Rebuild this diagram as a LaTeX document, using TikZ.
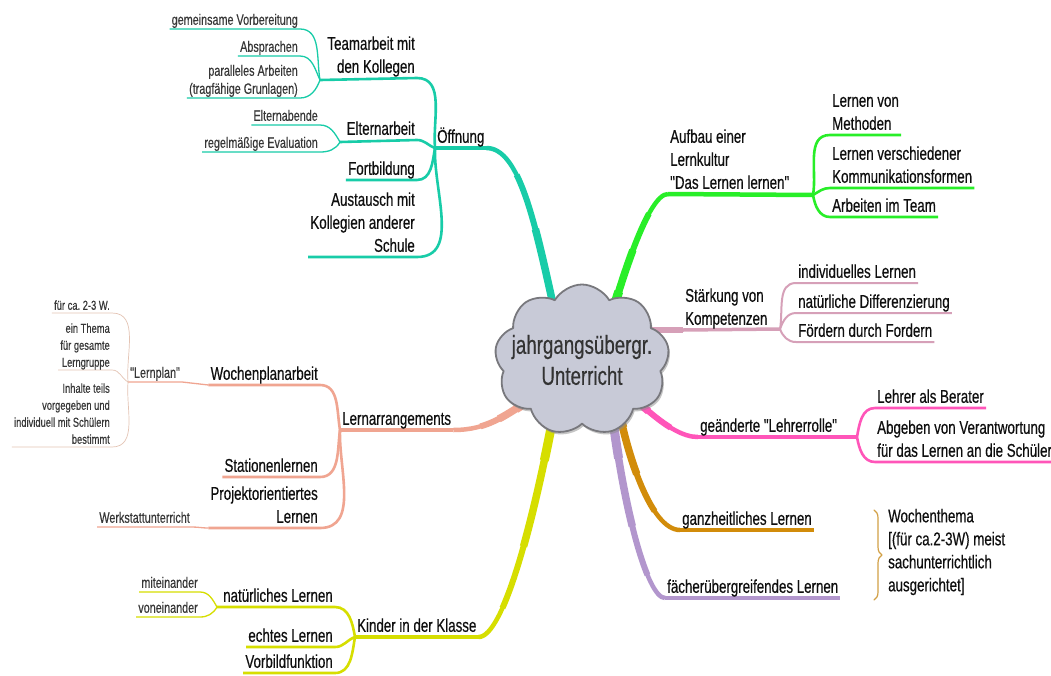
\documentclass[tikz,border=0pt]{standalone}
\usepackage{fontspec}
\setmainfont{Liberation Sans}[FakeStretch=0.72, FakeBold=0.4, Ligatures=TeXOff]
\usetikzlibrary{shapes.symbols,calc,decorations.pathreplacing,shadows}
\definecolor{cteal}{RGB}{24,204,168}
\definecolor{cgreen}{RGB}{40,238,40}
\definecolor{csalmon}{RGB}{240,165,145}
\definecolor{clight}{RGB}{228,196,180}
\definecolor{cyellow}{RGB}{214,222,0}
\definecolor{cmauve}{RGB}{214,160,184}
\definecolor{cpink}{RGB}{255,85,185}
\definecolor{cgold}{RGB}{210,140,10}
\definecolor{clav}{RGB}{178,150,205}
\definecolor{cbrace}{RGB}{210,160,70}
\definecolor{cloudfill}{RGB}{200,202,215}
\definecolor{cloudline}{RGB}{120,120,125}
\definecolor{txt}{RGB}{15,15,15}
\definecolor{txtb}{RGB}{55,55,55}
\pgfdeclarelayer{back}
\pgfsetlayers{back,main}
\newcommand\fmain{\fontsize{18.5}{23}\selectfont}
\newcommand\fsmall{\fontsize{15}{18}\selectfont}
\newcommand\ftiny{\fontsize{13}{17}\selectfont}
\newcommand\fcloud{\fontsize{26}{31}\selectfont}
\newcommand\Lt[1]{\begin{tabular}[b]{@{}r@{}}#1\end{tabular}}
\newcommand\Rt[1]{\begin{tabular}[b]{@{}l@{}}#1\end{tabular}}
% part of the curve P0..P3 from parameter #1 to the end
\newcommand\subcurve[3]{%
  \coordinate (Q0) at ($(P0)!#1!(P1)$);
  \coordinate (Q1) at ($(P1)!#1!(P2)$);
  \coordinate (Q2) at ($(P2)!#1!(P3)$);
  \coordinate (R0) at ($(Q0)!#1!(Q1)$);
  \coordinate (R1) at ($(Q1)!#1!(Q2)$);
  \coordinate (S0) at ($(R0)!#1!(R1)$);
  \draw[#2, line width=#3] (S0) .. controls (R1) and (Q2) .. (P3);}
% tapered main branch: colour, start, control 1, control 2, end
\newcommand\trunk[5]{%
  \coordinate (P0) at (#2);
  \coordinate (P1) at (#3);
  \coordinate (P2) at (#4);
  \coordinate (P3) at (#5);
  \draw[#1, line width=4.5pt] (P0) .. controls (P1) and (P2) .. (P3);
  \subcurve{0.3}{#1}{6pt}
  \subcurve{0.55}{#1}{7.5pt}
  \subcurve{0.8}{#1}{9pt}}
\begin{document}
\frenchspacing
\begin{tikzpicture}[x=1pt,y=1pt, line cap=round, line join=round,
 mtxt/.style={font=\fmain, text=txt, inner xsep=2pt, inner ysep=0pt, text depth=5pt},
 stxt/.style={font=\fsmall, text=txtb, inner xsep=2pt, inner ysep=0pt, text depth=4pt},
 ttxt/.style={font=\ftiny, text=txtb, inner xsep=2pt, inner ysep=0pt, text depth=3pt},
 lft/.style={anchor=south east}, rgt/.style={anchor=south west},
 limb/.style={line width=4.5pt},
 twig/.style={line width=2.6pt}, leaf/.style={line width=1.3pt}, hair/.style={line width=0.7pt}]
\useasboundingbox (0,0) rectangle (1051,-675);

% centre
\node[cloud, cloud puffs=9, cloud puff arc=120, aspect=1.25, fill=cloudfill, draw=cloudline,
  line width=1.8pt, minimum width=174pt, minimum height=142pt, inner xsep=-14pt, inner ysep=-6pt,
  drop shadow={shadow xshift=1.5pt, shadow yshift=-2.5pt, fill=black!45},
  font=\fcloud, text=black!80, align=center] (c) at (582,-360) {jahrgangsübergr.\\Unterricht};

% Oeffnung
\coordinate (oj) at (435,-148);
\node[mtxt,rgt] (oeff) at (oj) {Öffnung};
\node[mtxt,lft] (tk) at (417,-78) {\Lt{Teamarbeit mit\\den Kollegen}};
\coordinate (tkj) at (320,-80);
\node[mtxt,lft] (elt) at (417,-140) {Elternarbeit};
\coordinate (elj) at (340,-142);
\node[mtxt,lft] (fb) at (417,-180) {Fortbildung};
\node[mtxt,lft] (aus) at (417,-257) {\Lt{Austausch mit\\Kollegien anderer\\Schule}};
\node[stxt,lft] (gv) at (300,-29) {gemeinsame Vorbereitung};
\node[stxt,lft] (ab) at (300,-56) {Absprachen};
\node[stxt,lft] (pa) at (300,-98) {\Lt{paralleles Arbeiten\\(tragfähige Grunlagen)}};
\node[stxt,lft] (ea) at (320,-125) {Elternabende};
\node[stxt,lft] (re) at (320,-152) {regelmäßige Evaluation};

% Lernarrangements
\coordinate (laj) at (340,-430);
\node[mtxt,rgt] (la) at (laj) {Lernarrangements};
\node[mtxt,lft] (wp) at (320,-385) {Wochenplanarbeit};
\node[mtxt,lft] (st) at (320,-477) {Stationenlernen};
\node[mtxt,lft] (pr) at (320,-528) {\Lt{Projektorientiertes\\Lernen}};
\node[stxt,lft] (ws) at (192,-527) {Werkstattunterricht};
\coordinate (lpj) at (128,-382);
\node[stxt,rgt] (lp) at (lpj) {"Lernplan"};
\node[ttxt,lft] (t1) at (112,-313) {für ca. 2-3 W.};
\node[ttxt,lft] (t2) at (112,-370) {\Lt{ein Thema\\für gesamte\\Lerngruppe}};
\node[ttxt,lft] (t3) at (112,-447) {\Lt{Inhalte teils\\vorgegeben und\\individuell mit Schülern\\bestimmt}};

% Kinder
\coordinate (kj) at (355,-637);
\node[mtxt,rgt] (kk) at (kj) {Kinder in der Klasse};
\node[mtxt,lft] (nl) at (335,-607) {natürliches Lernen};
\coordinate (nlj) at (217,-607);
\node[mtxt,lft] (ec) at (335,-647) {echtes Lernen};
\node[mtxt,lft] (vf) at (335,-673) {Vorbildfunktion};
\node[stxt,lft] (mi) at (200,-592) {miteinander};
\node[stxt,lft] (vo) at (200,-617) {voneinander};

% Aufbau
\coordinate (aj) at (813,-195);
\node[mtxt,rgt] (ak) at (668,-194) {\Rt{Aufbau einer\\Lernkultur\\"Das Lernen lernen"}};
\node[mtxt,rgt] (lm) at (830,-135) {\Rt{Lernen von\\Methoden}};
\node[mtxt,rgt] (lv) at (830,-188) {\Rt{Lernen verschiedener\\Kommunikationsformen}};
\node[mtxt,rgt] (ait) at (830,-217) {Arbeiten im Team};

% Staerkung
\coordinate (sj) at (780,-329);
\node[mtxt,rgt] (sk) at (683,-330) {\Rt{Stärkung von\\Kompetenzen}};
\node[mtxt,rgt] (il) at (796,-283) {individuelles Lernen};
\node[mtxt,rgt] (nd) at (796,-313) {natürliche Differenzierung};
\node[mtxt,rgt] (ff) at (796,-342) {Fördern durch Fordern};

% Lehrerrolle
\coordinate (pj) at (857,-437);
\node[mtxt,rgt] (gl) at (698,-437) {geänderte "Lehrerrolle"};
\node[mtxt,rgt] (lb) at (875,-408) {Lehrer als Berater};
\node[mtxt,rgt] (av) at (875,-462) {\Rt{Abgeben von Verantwortung\\für das Lernen an die Schüler}};

% ganzheitlich / faecheruebergreifend
\node[mtxt,rgt] (gz) at (680,-530) {ganzheitliches Lernen};
\node[mtxt,rgt] (fu) at (665,-598) {fächerübergreifendes Lernen};
\coordinate (b1) at (874,-510);
\coordinate (b2) at (874,-600);
\node[font=\fmain, text=txt, inner sep=0pt, anchor=north west] (wt) at (888,-506)
  {\begin{tabular}[t]{@{}l@{}}Wochenthema\\{}[(für ca.2-3W) meist\\sachunterrichtlich\\ausgerichtet]\end{tabular}};

\begin{pgfonlayer}{back}
\fill[white] (0,0) rectangle (1051,-675);
% Oeffnung
\trunk{cteal}{oeff.south east}{$(oeff.south east)+(40,0)$}{$(c.center)+(-41,100)$}{$(c.center)+(-16,0)$}
\draw[limb,cteal] (oeff.south west) -- (oeff.south east);
\draw[twig,cteal] (oj) to[out=95,in=0] (tk.south east) -- (tkj);
\draw[twig,cteal] (oj) to[out=160,in=0] (elt.south east) -- (elj);
\draw[twig,cteal] (oj) to[out=260,in=0] (fb.south east) -- (fb.south west);
\draw[twig,cteal] (oj) to[out=268,in=0] (aus.south east) -- (aus.south west);
\draw[leaf,cteal] (tkj) to[out=100,in=0] (gv.south east) -- (gv.south west);
\draw[leaf,cteal] (tkj) to[out=115,in=0] (ab.south east) -- (ab.south west);
\draw[leaf,cteal] (tkj) to[out=250,in=0] (pa.south east) -- (pa.south west);
\draw[leaf,cteal] (elj) to[out=120,in=0] (ea.south east) -- (ea.south west);
\draw[leaf,cteal] (elj) to[out=240,in=0] (re.south east) -- (re.south west);
% Lernarrangements
\trunk{csalmon}{la.south east}{$(la.south east)+(35,0)$}{$(c.center)+(-77,-55)$}{$(c.center)+(-52,-40)$}
\draw[limb,csalmon] (la.south west) -- (la.south east);
\draw[twig,csalmon] (laj) to[out=100,in=0] (wp.south east) -- (wp.south west);
\draw[twig,csalmon] (laj) to[out=262,in=0] (st.south east) -- (st.south west);
\draw[twig,csalmon] (laj) to[out=268,in=0] (pr.south east) -- (pr.south west);
\draw[leaf,csalmon] (pr.south west) to[out=180,in=0] (ws.south east) -- (ws.south west);
\draw[leaf,csalmon] (wp.south west) -- (lp.south east) -- (lp.south west);
\draw[hair,clight] (lpj) to[out=95,in=0] (t1.south east) -- (t1.south west);
\draw[hair,clight] (lpj) to[out=150,in=0] (t2.south east) -- (t2.south west);
\draw[hair,clight] (lpj) to[out=265,in=0] (t3.south east) -- (t3.south west);
% Kinder
\trunk{cyellow}{kk.south east}{$(kk.south east)+(25,0)$}{$(c.center)+(-47,-160)$}{$(c.center)+(-22,-20)$}
\draw[limb,cyellow] (kk.south west) -- (kk.south east);
\draw[twig,cyellow] (kj) to[out=100,in=0] (nl.south east) -- (nlj);
\draw[twig,cyellow] (kj) to[out=200,in=0] (ec.south east) -- (ec.south west);
\draw[twig,cyellow] (kj) to[out=260,in=0] (vf.south east) -- (vf.south west);
\draw[leaf,cyellow] (nlj) to[out=120,in=0] (mi.south east) -- (mi.south west);
\draw[leaf,cyellow] (nlj) to[out=240,in=0] (vo.south east) -- (vo.south west);
% Aufbau
\trunk{cgreen}{ak.south west}{$(ak.south west)+(-20,0)$}{$(c.center)+(40,80)$}{$(c.center)+(28,40)$}
\draw[limb,cgreen] (ak.south west) -- (aj);
\draw[twig,cgreen] (aj) to[out=80,in=180] (lm.south west) -- (lm.south east);
\draw[twig,cgreen] (aj) to[out=30,in=180] (lv.south west) -- (lv.south east);
\draw[twig,cgreen] (aj) to[out=280,in=180] (ait.south west) -- (ait.south east);
% Staerkung
\draw[cmauve,line width=6pt] ($(c.center)+(30,30)$) -- (sk.south west);
\draw[cmauve,line width=3.5pt] (sk.south west) -- (sj);
\draw[cmauve,line width=2pt] (sj) to[out=80,in=180] (il.south west) -- (il.south east);
\draw[cmauve,line width=2pt] (sj) to[out=70,in=180] (nd.south west) -- (nd.south east);
\draw[cmauve,line width=2pt] (sj) to[out=290,in=180] (ff.south west) -- (ff.south east);
% Lehrerrolle
\trunk{cpink}{gl.south west}{$(gl.south west)+(-30,0)$}{$(c.center)+(53,-35)$}{$(c.center)+(33,-25)$}
\draw[limb,cpink] (gl.south west) -- (pj);
\draw[twig,cpink] (pj) to[out=80,in=180] (lb.south west) -- (lb.south east);
\draw[twig,cpink] (pj) to[out=280,in=180] (av.south west) -- (av.south east);
% ganzheitlich
\trunk{cgold}{gz.south west}{$(gz.south west)+(-30,0)$}{$(c.center)+(43,-90)$}{$(c.center)+(33,-30)$}
\draw[limb,cgold] (gz.south west) -- (gz.south east);
% faecheruebergreifend
\trunk{clav}{fu.south west}{$(fu.south west)+(-18,0)$}{$(c.center)+(40,-145)$}{$(c.center)+(28,-35)$}
\draw[limb,clav] (fu.south west) -- (fu.south east);
\end{pgfonlayer}
\draw[cbrace, line width=1.2pt, decorate, decoration={brace, amplitude=8pt}] (b1) -- (b2);
\end{tikzpicture}
\end{document}
